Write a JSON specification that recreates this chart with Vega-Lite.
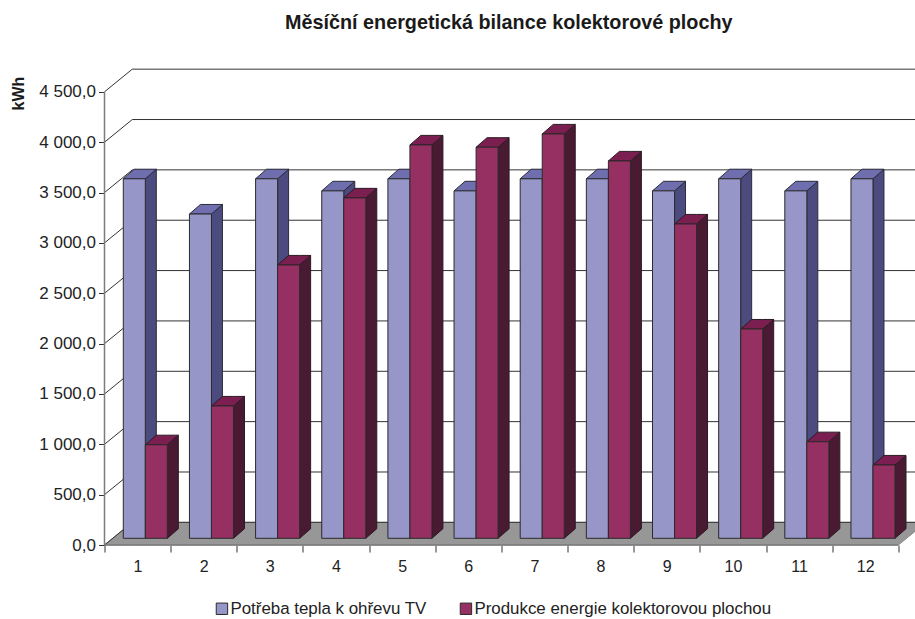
{"$schema":"https://vega.github.io/schema/vega-lite/v6.json","autosize":"none","width":810.5,"height":485,"padding":{"left":104.5,"top":60,"right":0,"bottom":74},"background":"white","title":{"text":"Měsíční energetická bilance kolektorové plochy","font":"Liberation Sans","fontSize":19.8,"fontWeight":"bold","color":"#1a1a1a","anchor":"middle","offset":27,"dx":-1},"config":{"view":{"stroke":null},"font":"Liberation Sans"},"resolve":{"axis":{"x":"independent","y":"independent"}},"datasets":{"bars":[{"month":1,"series":"Potřeba tepla k ohřevu TV","value":3570},{"month":2,"series":"Potřeba tepla k ohřevu TV","value":3220},{"month":3,"series":"Potřeba tepla k ohřevu TV","value":3570},{"month":4,"series":"Potřeba tepla k ohřevu TV","value":3450},{"month":5,"series":"Potřeba tepla k ohřevu TV","value":3570},{"month":6,"series":"Potřeba tepla k ohřevu TV","value":3450},{"month":7,"series":"Potřeba tepla k ohřevu TV","value":3570},{"month":8,"series":"Potřeba tepla k ohřevu TV","value":3570},{"month":9,"series":"Potřeba tepla k ohřevu TV","value":3450},{"month":10,"series":"Potřeba tepla k ohřevu TV","value":3570},{"month":11,"series":"Potřeba tepla k ohřevu TV","value":3450},{"month":12,"series":"Potřeba tepla k ohřevu TV","value":3570},{"month":1,"series":"Produkce energie kolektorovou plochou","value":929},{"month":2,"series":"Produkce energie kolektorovou plochou","value":1314},{"month":3,"series":"Produkce energie kolektorovou plochou","value":2714},{"month":4,"series":"Produkce energie kolektorovou plochou","value":3380},{"month":5,"series":"Produkce energie kolektorovou plochou","value":3906},{"month":6,"series":"Produkce energie kolektorovou plochou","value":3883},{"month":7,"series":"Produkce energie kolektorovou plochou","value":4015},{"month":8,"series":"Produkce energie kolektorovou plochou","value":3747},{"month":9,"series":"Produkce energie kolektorovou plochou","value":3121},{"month":10,"series":"Produkce energie kolektorovou plochou","value":2078},{"month":11,"series":"Produkce energie kolektorovou plochou","value":959},{"month":12,"series":"Produkce energie kolektorovou plochou","value":728}],"grid":[{"v":0},{"v":500},{"v":1000},{"v":1500},{"v":2000},{"v":2500},{"v":3000},{"v":3500},{"v":4000},{"v":4500}],"floor":[{"fx":0.5,"lo":0,"hi":0},{"fx":0.92,"lo":0,"hi":225},{"fx":12.5,"lo":0,"hi":225},{"fx":12.92,"lo":225,"hi":225}],"yline":[{"a":0.5,"b":0.5,"c":0,"d":4500},{"a":0.5,"b":12.5,"c":0,"d":0}]},"data":{"name":"bars"},"transform":[{"calculate":"datum.month + (indexof(datum.series,'Potřeba')==0 ? -0.216 : 0.117)","as":"x0"},{"calculate":"datum.x0 + 0.333","as":"x1"},{"calculate":"66.5","as":"yb"},{"calculate":"datum.value + 66.5","as":"yt"}],"layer":[{"data":{"name":"floor"},"transform":[],"mark":{"type":"area","fill":"#979797","stroke":"#8a8a8a","strokeWidth":1},"encoding":{"x":{"field":"fx","type":"quantitative","scale":{"domain":[0.5,12.752],"nice":false,"zero":false},"axis":{"values":[0.5,1.5,2.5,3.5,4.5,5.5,6.5,7.5,8.5,9.5,10.5,11.5,12.5],"title":null,"domain":false,"grid":false,"tickColor":"#333333","tickSize":7,"tickWidth":1,"labelOffset":33,"labelPadding":6,"labelFontSize":16,"labelColor":"#222222","labelFont":"Liberation Sans","labelFlush":false,"labelOverlap":false,"labelExpr":"datum.value > 12 ? '' : format(ceil(datum.value),'d')"}},"y":{"field":"lo","type":"quantitative","scale":{"domain":[0,4816],"nice":false,"zero":false},"axis":{"values":[0,500,1000,1500,2000,2500,3000,3500,4000,4500],"title":"kWh","titleFont":"Liberation Sans","titleFontSize":16,"titleFontWeight":"bold","titleColor":"#1a1a1a","titleX":-78,"titleY":33,"titleAngle":270,"domain":false,"grid":false,"tickColor":"#333333","tickSize":6,"tickWidth":1,"labelPadding":3,"labelFontSize":17,"labelColor":"#222222","labelFont":"Liberation Sans","labelOverlap":false,"labelExpr":"replace(replace(format(datum.value,',.1f'),',',' '),'.',',')"}},"y2":{"field":"hi"}}},{"data":{"name":"grid"},"transform":[{"calculate":"0.92","as":"gx"},{"calculate":"12.752","as":"gx2"},{"calculate":"datum.v + 225","as":"gy"}],"mark":{"type":"rule","stroke":"#333333","strokeWidth":1},"encoding":{"x":{"field":"gx","type":"quantitative","axis":null},"x2":{"field":"gx2"},"y":{"field":"gy","type":"quantitative","axis":null}}},{"data":{"name":"grid"},"transform":[{"calculate":"0.5","as":"gx"},{"calculate":"0.92","as":"gx2"},{"calculate":"datum.v + 225","as":"gy"}],"mark":{"type":"rule","stroke":"#333333","strokeWidth":1},"encoding":{"x":{"field":"gx","type":"quantitative","axis":null},"x2":{"field":"gx2"},"y":{"field":"v","type":"quantitative","axis":null},"y2":{"field":"gy"}}},{"data":{"name":"yline"},"transform":[],"mark":{"type":"rule","stroke":"#7d7d7d","strokeWidth":1.5},"encoding":{"x":{"field":"a","type":"quantitative","axis":null},"x2":{"field":"b"},"y":{"field":"c","type":"quantitative","axis":null},"y2":{"field":"d"}}},{"transform":[{"filter":"indexof(datum.series,'Potřeba')==0"},{"calculate":"[0,1]","as":"t"},{"flatten":["t"]},{"calculate":"datum.x1 + datum.t*0.166","as":"sx"},{"calculate":"datum.yt + datum.t*95","as":"sy"},{"calculate":"datum.yb + datum.t*95","as":"sy2"}],"mark":{"type":"area","fill":"#4b4b80","stroke":"#2b2b3a","strokeWidth":1},"encoding":{"x":{"field":"sx","type":"quantitative","axis":null},"y":{"field":"sy","type":"quantitative","axis":null},"y2":{"field":"sy2"},"detail":{"field":"month"}}},{"transform":[{"filter":"indexof(datum.series,'Potřeba')==0"},{"calculate":"[0,1,2,3]","as":"t"},{"flatten":["t"]},{"calculate":"datum.x0 + [0,0.166,0.333,0.499][datum.t]","as":"tx"},{"calculate":"datum.yt + [0,95,95,95][datum.t]","as":"tu"},{"calculate":"datum.yt + [0,0,0,95][datum.t]","as":"tl"}],"mark":{"type":"area","fill":"#6f6fb0","stroke":"#2b2b3a","strokeWidth":1},"encoding":{"x":{"field":"tx","type":"quantitative","axis":null},"y":{"field":"tu","type":"quantitative","axis":null},"y2":{"field":"tl"},"detail":{"field":"month"}}},{"transform":[{"filter":"indexof(datum.series,'Produkce')==0"},{"calculate":"[0,1]","as":"t"},{"flatten":["t"]},{"calculate":"datum.x1 + datum.t*0.166","as":"sx"},{"calculate":"datum.yt + datum.t*95","as":"sy"},{"calculate":"datum.yb + datum.t*95","as":"sy2"}],"mark":{"type":"area","fill":"#4a1a33","stroke":"#2b1a24","strokeWidth":1},"encoding":{"x":{"field":"sx","type":"quantitative","axis":null},"y":{"field":"sy","type":"quantitative","axis":null},"y2":{"field":"sy2"},"detail":{"field":"month"}}},{"transform":[{"filter":"indexof(datum.series,'Produkce')==0"},{"calculate":"[0,1,2,3]","as":"t"},{"flatten":["t"]},{"calculate":"datum.x0 + [0,0.166,0.333,0.499][datum.t]","as":"tx"},{"calculate":"datum.yt + [0,95,95,95][datum.t]","as":"tu"},{"calculate":"datum.yt + [0,0,0,95][datum.t]","as":"tl"}],"mark":{"type":"area","fill":"#7a1f50","stroke":"#2b1a24","strokeWidth":1},"encoding":{"x":{"field":"tx","type":"quantitative","axis":null},"y":{"field":"tu","type":"quantitative","axis":null},"y2":{"field":"tl"},"detail":{"field":"month"}}},{"mark":{"type":"rect","stroke":"#2b2b2b","strokeWidth":1},"encoding":{"x":{"field":"x0","type":"quantitative","axis":null},"x2":{"field":"x1"},"y":{"field":"yt","type":"quantitative","axis":null},"y2":{"field":"yb"},"color":{"field":"series","type":"nominal","scale":{"domain":["Potřeba tepla k ohřevu TV","Produkce energie kolektorovou plochou"],"range":["#9696c8","#962f62"]},"legend":{"orient":"none","legendX":109,"legendY":540,"direction":"horizontal","title":null,"symbolType":"square","symbolSize":130,"symbolStrokeColor":"#2b2b2b","symbolStrokeWidth":1,"labelFont":"Liberation Sans","labelFontSize":16.9,"labelColor":"#222222","labelLimit":400,"columnPadding":30,"labelOffset":0}}}}]}
